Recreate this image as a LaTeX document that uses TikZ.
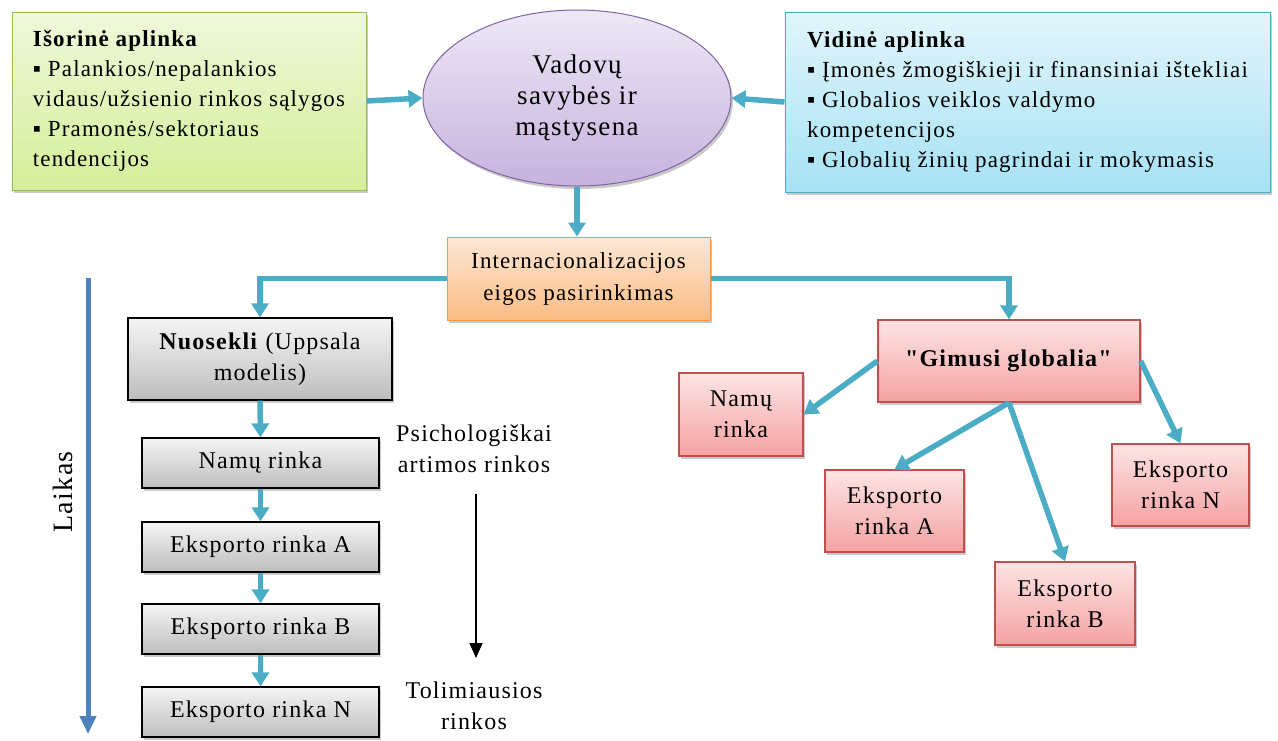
\documentclass[tikz,border=0pt]{standalone}
\usepackage{fontspec}
\setmainfont{Liberation Serif}[LetterSpace=5,Ligatures=TeXOff]
\usetikzlibrary{arrows.meta,shadows,shapes.geometric}
\definecolor{arrowc}{HTML}{4BACC6}
\definecolor{timec}{HTML}{4F81BD}
\definecolor{grnT}{HTML}{EEF8DA}\definecolor{grnB}{HTML}{D4EF9A}\definecolor{grnD}{HTML}{9BBB59}
\definecolor{bluT}{HTML}{E2F5FB}\definecolor{bluB}{HTML}{A6E2F5}\definecolor{bluD}{HTML}{4BACC6}
\definecolor{purT}{HTML}{EEE8F6}\definecolor{purB}{HTML}{C5B2DE}\definecolor{purD}{HTML}{8064A2}
\definecolor{orgT}{HTML}{FDE8D6}\definecolor{orgB}{HTML}{FBBC84}\definecolor{orgD}{HTML}{F79646}
\definecolor{gryT}{HTML}{F5F5F5}\definecolor{gryB}{HTML}{BDBDBD}
\definecolor{redT}{HTML}{FDE4E4}\definecolor{redB}{HTML}{F4A2A2}\definecolor{redD}{HTML}{C0504D}
\begin{document}
\begin{tikzpicture}[x=1pt,y=-1pt,
  conn/.style={draw=arrowc, line width=5.5pt, -{Triangle[width=17pt,length=14pt]}},
  shad/.style={drop shadow={shadow xshift=2pt,shadow yshift=-3pt,opacity=0.3,fill=black!70}},
  box/.style={rectangle, inner sep=0pt, line width=1pt, shad, align=center},
  greenbox/.style={box, draw=grnD, top color=grnT, bottom color=grnB, align=left},
  bluebox/.style={box, draw=bluD, top color=bluT, bottom color=bluB, align=left},
  orangebox/.style={box, draw=orgD, top color=orgT, bottom color=orgB},
  graybox/.style={box, draw=black, line width=1.3pt, top color=gryT, bottom color=gryB},
  redbox/.style={box, draw=redD, line width=1.3pt, top color=redT, bottom color=redB},
  topfont/.style={font=\fontsize{23}{30}\selectfont},
  midfont/.style={font=\fontsize{24}{31}\selectfont},
]
\useasboundingbox (0,0) rectangle (1278,740);

% top row
\node[greenbox, topfont, minimum width=354, minimum height=178] (ext) at (189,101)
 {\textbf{Išorinė aplinka}\\▪ Palankios/nepalankios\\vidaus/užsienio rinkos sąlygos\\▪ Pramonės/sektoriaus\\tendencijos};
\node[ellipse, draw=purD, line width=1pt, top color=purT, bottom color=purB, shad,
      minimum width=308, minimum height=176, inner sep=0pt, align=center,
      font=\fontsize{27}{31}\selectfont] (lead) at (577,98)
 {Vadovų\\savybės ir\\mąstysena};
\node[bluebox, topfont, minimum width=485, minimum height=180] (int) at (1027.5,102)
 {\textbf{Vidinė aplinka}\\▪ Įmonės žmogiškieji ir finansiniai ištekliai\\▪ Globalios veiklos valdymo\\kompetencijos\\▪ Globalių žinių pagrindai ir mokymasis};

\node[orangebox, font=\fontsize{23}{32}\selectfont, minimum width=263, minimum height=83] (choice) at (578.5,278.5)
 {Internacionalizacijos\\eigos pasirinkimas};

% left column
\node[graybox, midfont, minimum width=264, minimum height=82] (seq) at (260,359)
 {\textbf{Nuosekli} (Uppsala\\modelis)};
\node[graybox, midfont, minimum width=237, minimum height=50] (l1) at (260.5,463) {Namų rinka};
\node[graybox, midfont, minimum width=237, minimum height=50] (l2) at (260.5,547) {Eksporto rinka A};
\node[graybox, midfont, minimum width=237, minimum height=50] (l3) at (260.5,629) {Eksporto rinka B};
\node[graybox, midfont, minimum width=237, minimum height=50] (l4) at (260.5,712) {Eksporto rinka N};

% time axis
\coordinate (t0) at (88,278);
\coordinate (t1) at (88,734);
\draw[draw=timec, line width=5pt, -{Triangle[width=16pt,length=18pt]}] (t0) -- (t1);
\node[font=\fontsize{28}{32}\selectfont, rotate=90] (time) at (63,492) {Laikas};

% distance labels
\node[midfont, align=center] (near) at (474,449) {Psichologiškai\\artimos rinkos};
\node[midfont, align=center] (far) at (474,706) {Tolimiausios\\rinkos};
\coordinate (d0) at (476,494);
\coordinate (d1) at (476,658);
\draw[line width=1.5pt, -{Triangle[width=13pt,length=15pt]}] (d0) -- (d1);

% right cluster
\node[redbox, midfont, minimum width=262, minimum height=82] (born) at (1009,361)
 {\textbf{"Gimusi globalia"}};
\node[redbox, midfont, minimum width=124, minimum height=83] (r1) at (741,414.5) {Namų\\rinka};
\node[redbox, midfont, minimum width=139, minimum height=82] (r2) at (894.5,511) {Eksporto\\rinka A};
\node[redbox, midfont, minimum width=140, minimum height=83] (r3) at (1065,603.5) {Eksporto\\rinka B};
\node[redbox, midfont, minimum width=137, minimum height=82] (rn) at (1180.5,485) {Eksporto\\rinka N};

% connectors
\draw[conn] (ext.east) -- (lead.west);
\draw[conn] (int.west) -- (lead.east);
\draw[conn] (lead.south) -- (lead.south |- choice.north);
\draw[conn] (choice.west) -| (seq.north);
\draw[conn] (choice.east) -| (born.north);
\draw[conn] (seq.south) -- (l1.north);
\draw[conn] (l1.south) -- (l2.north);
\draw[conn] (l2.south) -- (l3.north);
\draw[conn] (l3.south) -- (l4.north);
\draw[conn] (born.west) -- (r1.east);
\draw[conn] (born.south) -- (r2.north);
\draw[conn] (born.south) -- (r3.north);
\draw[conn] (born.east) -- (rn.north);
\end{tikzpicture}
\end{document}
